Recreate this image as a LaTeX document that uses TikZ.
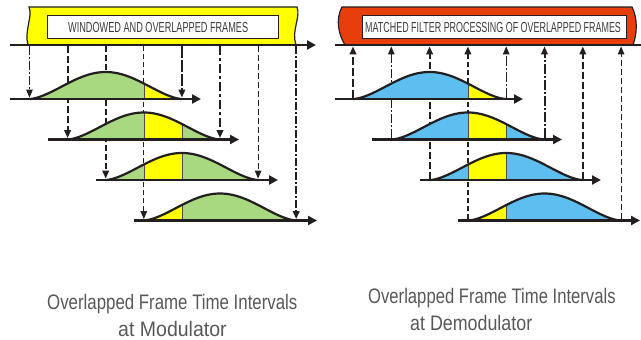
\documentclass[tikz,border=0pt]{standalone}
\usepackage{fontspec}
\setmainfont{Liberation Sans}
\usetikzlibrary{arrows.meta}
\definecolor{inkdark}{RGB}{35,31,32}
\definecolor{wgreen}{RGB}{168,216,128}
\definecolor{wblue}{RGB}{94,190,240}
\definecolor{wyellow}{RGB}{255,255,0}
\definecolor{bred}{RGB}{232,62,12}
\definecolor{captgray}{RGB}{88,88,88}
\definecolor{bantext}{RGB}{60,60,60}
\newcommand\wincurvepath[2]{plot[domain=0:152.4,samples=77] ({#1+\x},{#2-27*pow(abs(sin(1.181102*\x))+0.0001,1.6)})}
\tikzset{
  mainaxis/.style={draw=inkdark, line width=2.8pt},
  rowaxis/.style={draw=inkdark, line width=2.8pt, -{Triangle[length=9pt,width=9pt]}},
  banner/.style={draw=inkdark, line width=1.2pt},
  labelbox/.style={draw=inkdark, line width=0.8pt, fill=white, inner sep=0pt},
  bantxt/.style={text=bantext, inner sep=0pt, anchor=base west, font=\fontsize{14.5}{14.5}\selectfont},
  capt/.style={text=captgray, inner sep=0pt, anchor=base west, font=\fontsize{21}{24}\selectfont},
  curveline/.style={draw=inkdark, line width=2.2pt, line join=round},
  sepline/.style={draw=inkdark!80, line width=0.6pt},
  vtip/.style={-{Triangle[length=8pt,width=6.5pt]}, draw=inkdark},
  lv0/.style={vtip, line width=0.9pt, dash pattern=on 9pt off 2pt on 2pt off 2pt},
  lv1/.style={vtip, line width=2pt, dash pattern=on 7pt off 3pt},
  lv2/.style={vtip, line width=1.8pt, dash pattern=on 6pt off 3pt},
  lv3/.style={vtip, line width=1pt, dash pattern=on 5pt off 3pt},
  lv4/.style={vtip, line width=2pt, dash pattern=on 12pt off 2pt},
  lv5/.style={vtip, line width=2pt, dash pattern=on 9pt off 3pt on 3pt off 3pt},
  lv6/.style={vtip, line width=1pt, dash pattern=on 6pt off 3pt},
  lv7/.style={vtip, line width=2pt, dash pattern=on 8pt off 2pt on 2pt off 2pt},
  rv0/.style={vtip, line width=2pt, dash pattern=on 8pt off 3pt},
  rv1/.style={vtip, line width=1pt, dash pattern=on 9pt off 2pt on 2pt off 2pt},
  rv2/.style={vtip, line width=2pt, dash pattern=on 7pt off 3pt},
  rv3/.style={vtip, line width=2pt, dash pattern=on 5pt off 3pt},
  rv4/.style={vtip, line width=1pt, dash pattern=on 10pt off 2pt on 2pt off 2pt},
  rv5/.style={vtip, line width=2pt, dash pattern=on 10pt off 2pt on 2pt off 2pt},
  rv6/.style={vtip, line width=2pt, dash pattern=on 7pt off 3pt},
  rv7/.style={vtip, line width=1pt, dash pattern=on 6pt off 3pt},
}
\begin{document}
\begin{tikzpicture}[x=1pt,y=-1pt]
\useasboundingbox (0,0) rectangle (641,340);

% ---------- banners ----------
\path[banner, fill=wyellow] (29,7) -- (297,7) .. controls (301,17) and (291,31) .. (296,45)
  -- (28,45) .. controls (24,31) and (33,16) .. (29,7) -- cycle;
\node[labelbox, minimum width=231.5pt, minimum height=23.5pt] (lbox) at (162.75,26.75) {};
\node[bantxt] (ltext) at (68,32.3) {\scalebox{0.631}[1]{WINDOWED AND OVERLAPPED FRAMES}};

\path[banner, fill=bred] (342,7) -- (632,7) .. controls (638,19) and (637,34) .. (633,45)
  -- (345,45) .. controls (339,35) and (335,20) .. (342,7) -- cycle;
\node[labelbox, minimum width=264pt, minimum height=23.5pt] (rbox) at (494,26.75) {};
\node[bantxt] (rtext) at (365,32.3) {\scalebox{0.616}[1]{MATCHED FILTER PROCESSING OF OVERLAPPED FRAMES}};

% ---------- main axes ----------
\coordinate (LmainS) at (10,45);
\coordinate (LmainE) at (316,45);
\coordinate (RmainS) at (335,45);
\coordinate (RmainE) at (641,45);
\draw[mainaxis, -{Triangle[length=9pt,width=9pt]}] (LmainS) -- (LmainE);
\draw[mainaxis] (RmainS) -- (RmainE);

% ---------- vertical timing lines ----------
\foreach \k in {0,...,7} {
  \pgfmathsetmacro\xl{29.5+38.1*\k}
  \pgfmathsetmacro\xr{353+38.3*\k}
  \pgfmathtruncatemacro\rw{mod(\k,4)}
  \pgfmathsetmacro\yr{99+40.5*\rw}
  \coordinate (Lt\k) at (\xl,46.4);
  \coordinate (Lb\k) at (\xl,\yr-1.4);
  \coordinate (Rt\k) at (\xr,46.4);
  \coordinate (Rb\k) at (\xr,\yr-1.4);
  \draw[lv\k] (Lt\k) -- (Lb\k);
  \draw[rv\k] (Rb\k) -- (Rt\k);
}

% ---------- windowed frames ----------
\foreach \i in {0,...,3} {
  \pgfmathsetmacro\yb{99+40.5*\i}
  % left (modulator)
  \pgfmathsetmacro\xo{29.5+38.1*\i}
  \fill[wgreen] \wincurvepath{\xo}{\yb} -- cycle;
  \begin{scope}
    \clip \wincurvepath{\xo}{\yb} -- cycle;
    \fill[wyellow] (143.8,\yb-40) rectangle (181.9,\yb+2);
    \draw[sepline] (143.8,\yb-40) -- (143.8,\yb) (181.9,\yb-40) -- (181.9,\yb);
  \end{scope}
  \draw[curveline] \wincurvepath{\xo}{\yb};
  % right (demodulator)
  \pgfmathsetmacro\xp{353.4+38.3*\i}
  \fill[wblue] \wincurvepath{\xp}{\yb} -- cycle;
  \begin{scope}
    \clip \wincurvepath{\xp}{\yb} -- cycle;
    \fill[wyellow] (467.9,\yb-40) rectangle (506.2,\yb+2);
    \draw[sepline] (467.9,\yb-40) -- (467.9,\yb) (506.2,\yb-40) -- (506.2,\yb);
  \end{scope}
  \draw[curveline] \wincurvepath{\xp}{\yb};
}

% ---------- row axes ----------
\foreach \i/\ls/\le/\rs/\re in {0/10/201/335/523, 1/48/239/372/562, 2/96/278/420/601, 3/134/317/458/640} {
  \pgfmathsetmacro\yb{99+40.5*\i}
  \coordinate (Ls\i) at (\ls,\yb);
  \coordinate (Le\i) at (\le,\yb);
  \coordinate (Rs\i) at (\rs,\yb);
  \coordinate (Re\i) at (\re,\yb);
  \draw[rowaxis] (Ls\i) -- (Le\i);
  \draw[rowaxis] (Rs\i) -- (Re\i);
}

% ---------- captions ----------
\node[capt] (lcap1) at (47,309) {\scalebox{0.802}[1]{Overlapped Frame Time Intervals}};
\node[capt] (lcap2) at (118,336.5) {\scalebox{0.93}[1]{at Modulator}};
\node[capt] (rcap1) at (368,303.3) {\scalebox{0.793}[1]{Overlapped Frame Time Intervals}};
\node[capt] (rcap2) at (410,330) {\scalebox{0.85}[1]{at Demodulator}};
\end{tikzpicture}
\end{document}
